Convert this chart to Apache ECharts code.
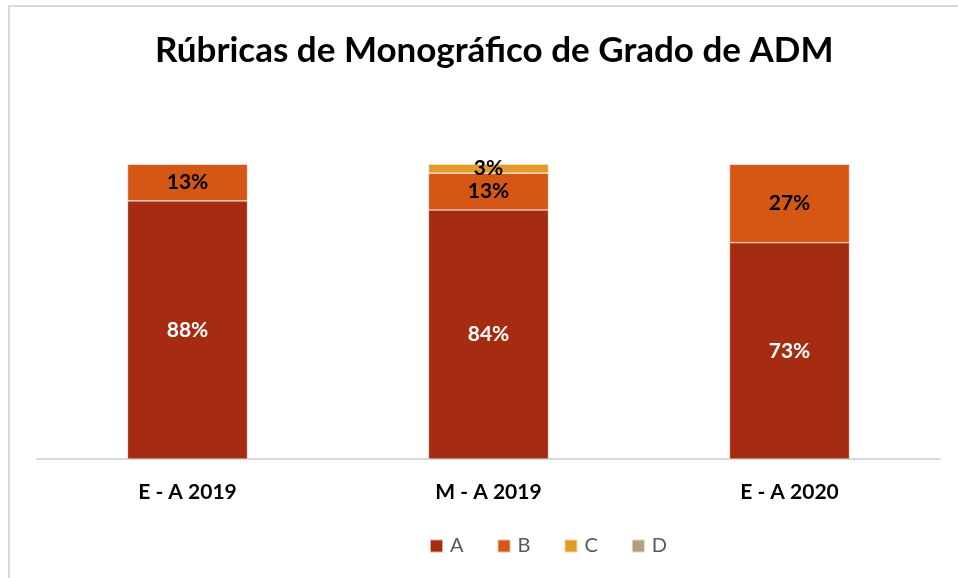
<!DOCTYPE html>
<html>
<head>
<meta charset="utf-8">
<script src="https://cdn.jsdelivr.net/npm/echarts@6/dist/echarts.min.js"></script>
<style>
  html, body { margin: 0; padding: 0; background: #fff; }
  #wrap { position: absolute; left: 8px; top: 5px; width: 950px; height: 573px;
          border-left: 2px solid #d9d9d9; border-top: 2px solid #d9d9d9; }
  #chart { position: absolute; left: 0; top: 0; width: 958px; height: 578px; }
</style>
</head>
<body>
<div id="wrap"></div>
<div id="chart"></div>
<script>
// datos (porcentajes)
var categorias = ['E - A 2019', 'M - A 2019', 'E - A 2020'];
var serieA = [87.5, 84.4, 73.3];
var serieB = [12.5, 12.5, 26.7];
var serieC = [0, 3.1, 0];
var serieD = [0, 0, 0];
var nombres = ['A', 'B', 'C', 'D'];
var colores = ['#A52C10', '#D55716', '#E29A2A', '#B39D7E'];

var fuente = 'Lato, "Open Sans", sans-serif';

function etiqueta(color) {
  return {
    show: true,
    position: 'inside',
    color: color,
    fontFamily: fuente,
    fontWeight: 'bold',
    fontSize: 21,
    formatter: function (p) {
      return p.value > 0 ? Math.round(p.value) + '%' : '';
    }
  };
}

function serie(nombre, datos, color, colorTexto) {
  return {
    name: nombre,
    type: 'bar',
    stack: 'total',
    barWidth: 120,
    data: datos,
    itemStyle: { color: color, borderColor: 'rgba(255,255,255,0.6)', borderWidth: 0.6 },
    label: etiqueta(colorTexto)
  };
}

var chart = echarts.init(document.getElementById('chart'));
chart.setOption({
  animation: false,
  title: {
    text: 'Rúbricas de Monográfico de Grado de ADM',
    left: 150,
    top: 28,
    textStyle: { fontFamily: fuente, fontWeight: 'bold', fontSize: 35, color: '#000' }
  },
  legend: {
    data: nombres,
    bottom: 17,
    left: 424,
    itemWidth: 13,
    itemHeight: 13,
    itemGap: 33,
    icon: 'rect',
    textStyle: { fontFamily: fuente, fontSize: 20, color: '#595959', padding: [0, 0, 0, 2] }
  },
  grid: { left: 37, right: 18, top: 164, bottom: 119 },
  xAxis: {
    type: 'category',
    data: categorias,
    axisLine: { lineStyle: { color: '#d9d9d9', width: 2 } },
    axisTick: { show: false },
    axisLabel: { fontFamily: fuente, fontWeight: 'bold', fontSize: 21, color: '#000', margin: 23 }
  },
  yAxis: {
    type: 'value',
    min: 0,
    max: 100,
    show: false
  },
  series: [
    serie('A', serieA, colores[0], '#fff'),
    serie('B', serieB, colores[1], '#000'),
    serie('C', serieC, colores[2], '#000'),
    serie('D', serieD, colores[3], '#000')
  ]
});
</script>
</body>
</html>
